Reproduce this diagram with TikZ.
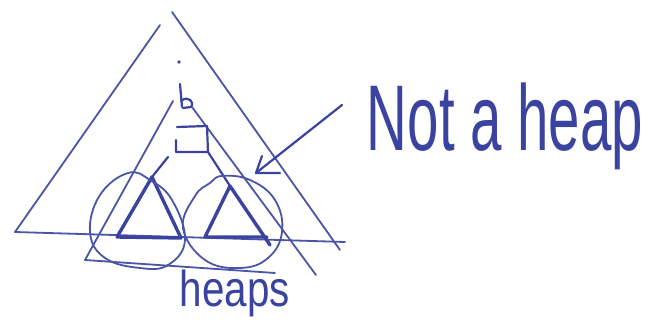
\documentclass[tikz,border=0pt]{standalone}
\usepackage{fontspec}
\newfontfamily\hand{Liberation Sans}
\usepackage{graphicx}
\definecolor{ink}{HTML}{3A44A0}
\definecolor{inklight}{HTML}{4A55A8}
\begin{document}
\begin{tikzpicture}[x=1pt,y=-1pt,
  pen/.style={draw=ink,line width=2.2pt,line cap=round,line join=round},
  thinpen/.style={draw=inklight,line width=1.8pt,line cap=round,line join=round},
  thickpen/.style={draw=ink,line width=3.4pt,line cap=round,line join=round},
  label/.style={text=ink,inner sep=0pt,font=\hand}]
\useasboundingbox (0,0) rectangle (662,320);
\fill[white] (0,0) rectangle (662,320);
% outer triangle
\coordinate (oL) at (15,232);
\coordinate (oT1) at (160,25);
\coordinate (oT2) at (172,12);
\coordinate (oR) at (340,250);
\coordinate (oB) at (345,242);
\draw[thinpen] (oL) -- (oT1);
\draw[thinpen] (oT2) -- (oR);
\draw[thinpen] (oL) -- (oB);
% i
\fill[ink] (179,62) circle (1.8pt);
\draw[pen] (180,84) -- (182,107);
\draw[pen] (181,101) .. controls (188,95) and (195,102) .. (191,107) -- (183,108);
% inner triangle
\coordinate (iTL) at (173,101);
\coordinate (iBL) at (85,260);
\coordinate (iBR) at (275,273);
\coordinate (iTR) at (192,107);
\coordinate (iR) at (316,275);
\draw[thinpen] (iTL) -- (iBL) -- (iBR);
\draw[thinpen] (iTR) -- (iR);
% box
\coordinate (bxA) at (176,140);
\coordinate (bxB) at (176,152);
\coordinate (bxC) at (208,152);
\coordinate (bxD) at (207,126);
\coordinate (bxE) at (177,127);
\draw[pen] (bxA) -- (bxB) -- (bxC) -- (bxD) -- (bxE);
% subtrees
\coordinate (lA) at (152,177);
\coordinate (lL) at (117,237);
\coordinate (lR) at (181,238);
\coordinate (rA) at (230,186);
\coordinate (rL) at (205,237);
\coordinate (rB) at (267,237);
\coordinate (rR) at (270,245);
\coordinate (e1) at (168,157);
\draw[pen] (e1) -- (lA);
\draw[pen] (bxC) -- (rA);
\draw[thickpen] (lA) -- (lL) -- (lR) -- cycle;
\draw[thickpen] (rR) -- (rA) -- (rL) -- (rB);
% circles
\draw[thinpen] plot[smooth cycle,tension=0.7] coordinates
  {(90,232) (100,195) (128,173) (150,180) (172,200) (185,240) (168,265) (140,268) (105,258)};
\draw[thinpen] plot[smooth cycle,tension=0.7] coordinates
  {(183,228) (195,196) (210,183) (222,176) (250,180) (275,200) (282,232) (268,258) (240,268) (205,260)};
% arrow
\coordinate (aT) at (342,105);
\coordinate (aH) at (256,173);
\coordinate (aB1) at (262,156);
\coordinate (aB2) at (280,173);
\draw[pen] (aT) -- (aH);
\draw[pen] (aB1) -- (aH) -- (aB2);
% texts
\node[label] (nah) at (505,126) {\resizebox*{276pt}{87pt}{Not a heap}};
\node[label] (hp) at (235,293) {\resizebox*{110pt}{47pt}{heaps}};
\end{tikzpicture}
\end{document}
